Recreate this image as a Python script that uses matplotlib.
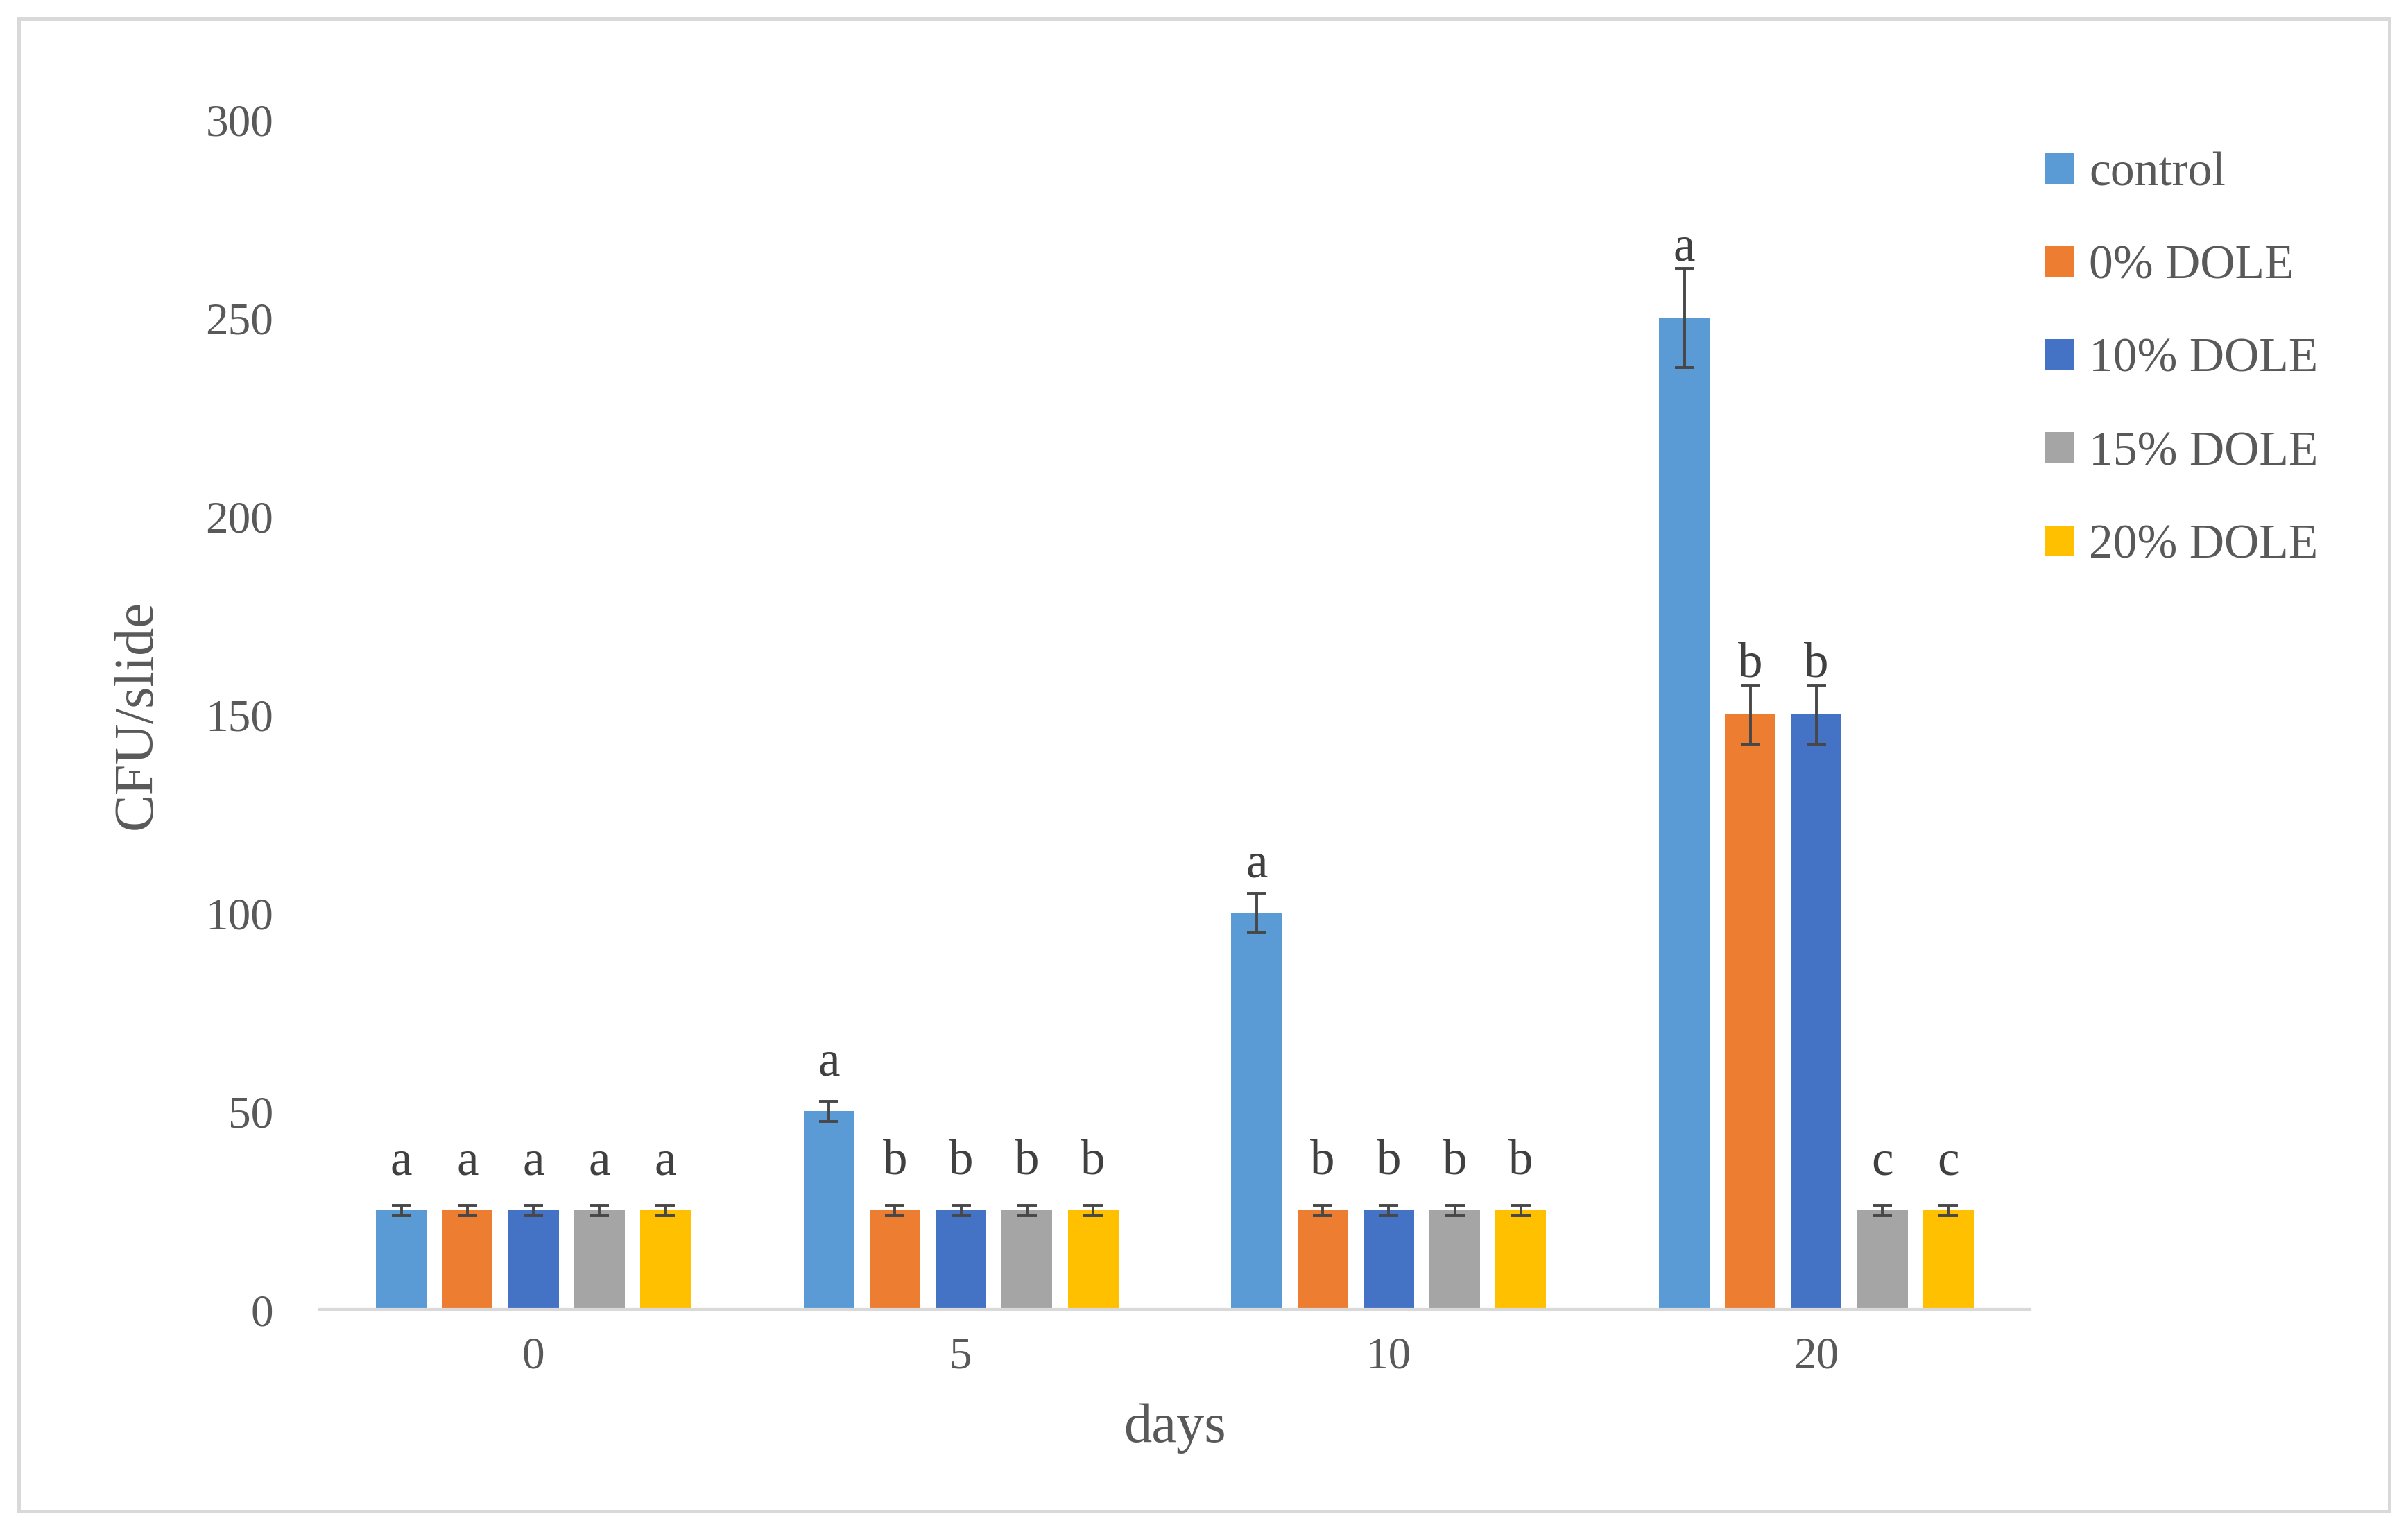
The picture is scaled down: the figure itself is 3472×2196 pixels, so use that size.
import matplotlib
matplotlib.use("Agg")
import matplotlib.pyplot as plt
from matplotlib.patches import Rectangle
import numpy as np

days = ["0", "5", "10", "20"]
series = ["control", "0% DOLE", "10% DOLE", "15% DOLE", "20% DOLE"]
values = {
    "control":  [25, 50, 100, 250],
    "0% DOLE":  [25, 25, 25, 150],
    "10% DOLE": [25, 25, 25, 150],
    "15% DOLE": [25, 25, 25, 25],
    "20% DOLE": [25, 25, 25, 25],
}
errors = {
    "control":  [1.25, 2.5, 5, 12.5],
    "0% DOLE":  [1.25, 1.25, 1.25, 7.5],
    "10% DOLE": [1.25, 1.25, 1.25, 7.5],
    "15% DOLE": [1.25, 1.25, 1.25, 1.25],
    "20% DOLE": [1.25, 1.25, 1.25, 1.25],
}
letters = {
    "control":  ["a", "a", "a", "a"],
    "0% DOLE":  ["a", "b", "b", "b"],
    "10% DOLE": ["a", "b", "b", "b"],
    "15% DOLE": ["a", "b", "b", "c"],
    "20% DOLE": ["a", "b", "b", "c"],
}
colors = ["#5B9BD5", "#ED7D31", "#4472C4", "#A5A5A5", "#FFC000"]

plt.rcParams['font.family'] = ['Liberation Serif', 'DejaVu Serif']
txt = "#595959"

fig = plt.figure(figsize=(17.36, 10.98), dpi=200)
ax = fig.add_axes([0.1327, 0.1401, 0.8431 - 0.1327, 0.9214 - 0.1401])

x = np.arange(len(days))
pitch = 0.1544
width = 0.1185
for i, s in enumerate(series):
    xs = x + (i - 2) * pitch
    ax.bar(xs, values[s], width=width, color=colors[i], label=s, zorder=2)
    ax.errorbar(xs, values[s], yerr=errors[s], fmt="none", ecolor="#474747",
                elinewidth=1.4, capsize=5, capthick=1.4, zorder=3)
    for xi, v, e, l in zip(xs, values[s], errors[s], letters[s]):
        ax.text(xi, max(v + 9, v + e + 2), l, ha="center", va="baseline",
                fontsize=25.5, color="#404040")

ax.set_xlim(-0.5, 3.5)
ax.set_ylim(0, 300)
ax.set_yticks(np.arange(0, 301, 50))
ax.set_xticks(x)
ax.set_xticklabels(days)
ax.tick_params(axis="both", length=0, labelsize=23.5, colors=txt)
ax.tick_params(axis="y", pad=24)
ax.tick_params(axis="x", pad=14)
for sp in ["top", "right", "left"]:
    ax.spines[sp].set_visible(False)
ax.spines["bottom"].set_color("#D9D9D9")
ax.spines["bottom"].set_linewidth(1.5)
ax.set_xlabel("days", fontsize=29, color=txt, labelpad=13)
ax.set_ylabel("CFU/slide", fontsize=29, color=txt, labelpad=22)

leg = ax.legend(loc="upper left", bbox_to_anchor=(0.8495, 0.9005),
                bbox_transform=fig.transFigure, frameon=False, fontsize=25,
                handlelength=0.6, handleheight=0.6, handletextpad=0.3,
                labelspacing=1.02, borderaxespad=0, borderpad=0)
for t in leg.get_texts():
    t.set_color(txt)

fig.patches.append(Rectangle((27 / 3472, 1 - 2179 / 2196), (3445 - 27) / 3472,
                             (2179 - 27) / 2196, transform=fig.transFigure,
                             fill=False, edgecolor="#D9D9D9", linewidth=1.8))

fig.savefig("out.png", dpi=200, facecolor="white")
